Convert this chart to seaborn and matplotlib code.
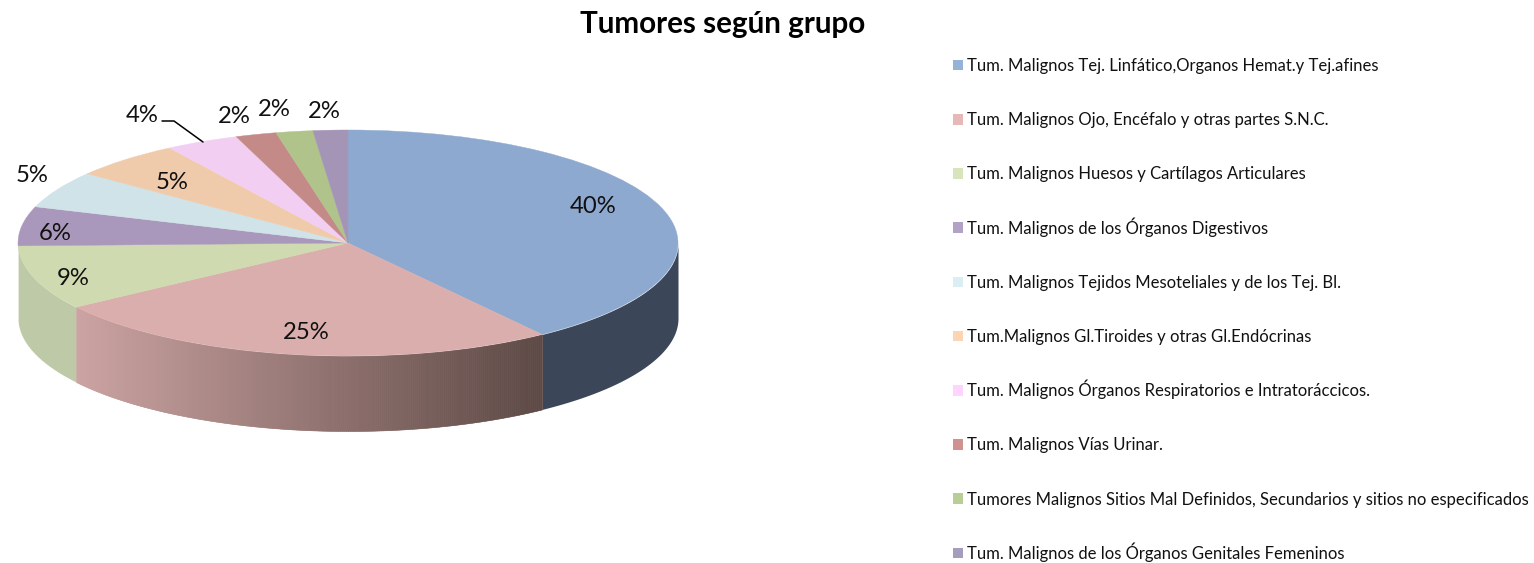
import numpy as np
import matplotlib
matplotlib.use("Agg")
import matplotlib.pyplot as plt
import matplotlib.colors as mcolors
from matplotlib.patches import Patch
import seaborn as sns

# Data
grupos = [
    "Tum. Malignos Tej. Linfático,Organos Hemat.y Tej.afines",
    "Tum. Malignos Ojo, Encéfalo y otras partes S.N.C.",
    "Tum. Malignos Huesos y Cartílagos Articulares",
    "Tum. Malignos de los Órganos Digestivos",
    "Tum. Malignos Tejidos Mesoteliales y de los Tej. Bl.",
    "Tum.Malignos Gl.Tiroides y otras Gl.Endócrinas",
    "Tum. Malignos Órganos Respiratorios e Intratoráccicos.",
    "Tum. Malignos Vías Urinar.",
    "Tumores Malignos Sitios Mal Definidos, Secundarios y sitios no especificados",
    "Tum. Malignos de los Órganos Genitales Femeninos",
]
valores = [40, 25.4, 9.2, 5.6, 5.3, 5.4, 3.6, 2.0, 1.8, 1.7]

colores_top = ["#8ea9cf", "#dbaeae", "#cfdab0", "#aa98bc", "#d0e3e8",
               "#f0cbab", "#f2cff2", "#c48a87", "#afc38b", "#a494b6"]
colores_leyenda = ["#95b3d7", "#e6b9b8", "#d7e4bc", "#b3a2c7", "#dbeef4",
                   "#fcd5b5", "#ffd5ff", "#d09290", "#b9cd96", "#a69cbc"]

# Layout in pixels of the 1534x563 image
W, H = 1534, 563
CX, CY, RX, RY = 348, 243, 330, 113
DEPTH = 75 / RY
etiquetas_px = [(593, 207), (306, 333), (73, 279), (55, 234), (172, 183),
                (32, 176), (142, 116), (234, 117), (274, 110), (324, 112)]

sns.set_theme(style="white")
plt.rcParams["font.family"] = ["Lato", "DejaVu Sans"]

fig = plt.figure(figsize=(W / 100, H / 100), dpi=100, facecolor="white")
ax = fig.add_axes([0, 0, 1, 1])


def px(x, y):
    return (x - CX) / RX, (CY - y) / RY


# Side wall, only the front half is visible
fronteras = np.cumsum([0] + valores) / sum(valores) * 2 * np.pi


def pared(i, c_izq, c_der=None, n=240):
    a0, a1 = fronteras[i], fronteras[i + 1]
    a0, a1 = max(a0, np.pi / 2), min(a1, 3 * np.pi / 2)
    xs = np.sort(np.sin(np.linspace(a0, a1, 300)))
    top = -np.sqrt(np.clip(1 - xs**2, 0, 1))
    # flat base first, so strips leave no seams
    ax.fill_between(xs, top, top - DEPTH, color=c_izq, lw=0, zorder=1)
    if c_der is None:
        return
    cmap = mcolors.LinearSegmentedColormap.from_list("g", [c_izq, c_der])
    bordes = np.linspace(xs[0], xs[-1], n + 1)
    for k in range(n):
        xx = bordes[k:k + 2]
        t = -np.sqrt(np.clip(1 - xx**2, 0, 1))
        ax.fill_between(xx, t, t - DEPTH, color=cmap(k / n), lw=0.4, zorder=2)


pared(0, "#3b4759")
pared(1, "#cba3a2", "#5c4945")
pared(2, "#bec9a8")

wedges, _ = ax.pie(valores, colors=colores_top, startangle=90, counterclock=False,
                   radius=1, wedgeprops={"linewidth": 0.3, "zorder": 3})
for w in wedges:
    w.set_edgecolor(w.get_facecolor())
ax.set_aspect("auto")
ax.set_xlim((0 - CX) / RX, (W - CX) / RX)
ax.set_ylim((CY - H) / RY, CY / RY)
ax.axis("off")

for v, (x, y) in zip(valores, etiquetas_px):
    dx, dy = px(x, y)
    ax.text(dx, dy, f"{v:.0f}%", ha="center", va="center", fontsize=17.2,
            color="#111111", zorder=5)

# Leader line of the 4% label
linea = [px(162, 121), px(174, 121), px(203, 142)]
ax.plot([p[0] for p in linea], [p[1] for p in linea], color="black", lw=1.1, zorder=5)

fig.text(723 / W, 1 - 24 / H, "Tumores según grupo", ha="center", va="center",
         fontsize=21.3, fontweight="bold", color="black")

# One legend per row, accents in a shared legend make the rows uneven
for i, (g, c) in enumerate(zip(grupos, colores_leyenda)):
    y_fila = 66 + 54.2 * i
    fig.legend([Patch(facecolor=c, edgecolor="none")], [g], loc="lower left",
               bbox_to_anchor=(953 / W, 1 - (y_fila + 8) / H),
               frameon=False, fontsize=11.98, handlelength=0.6, handleheight=0.6,
               handletextpad=0.24, borderpad=0, borderaxespad=0,
               labelcolor="#111111")

fig.savefig("out.png", dpi=100)
